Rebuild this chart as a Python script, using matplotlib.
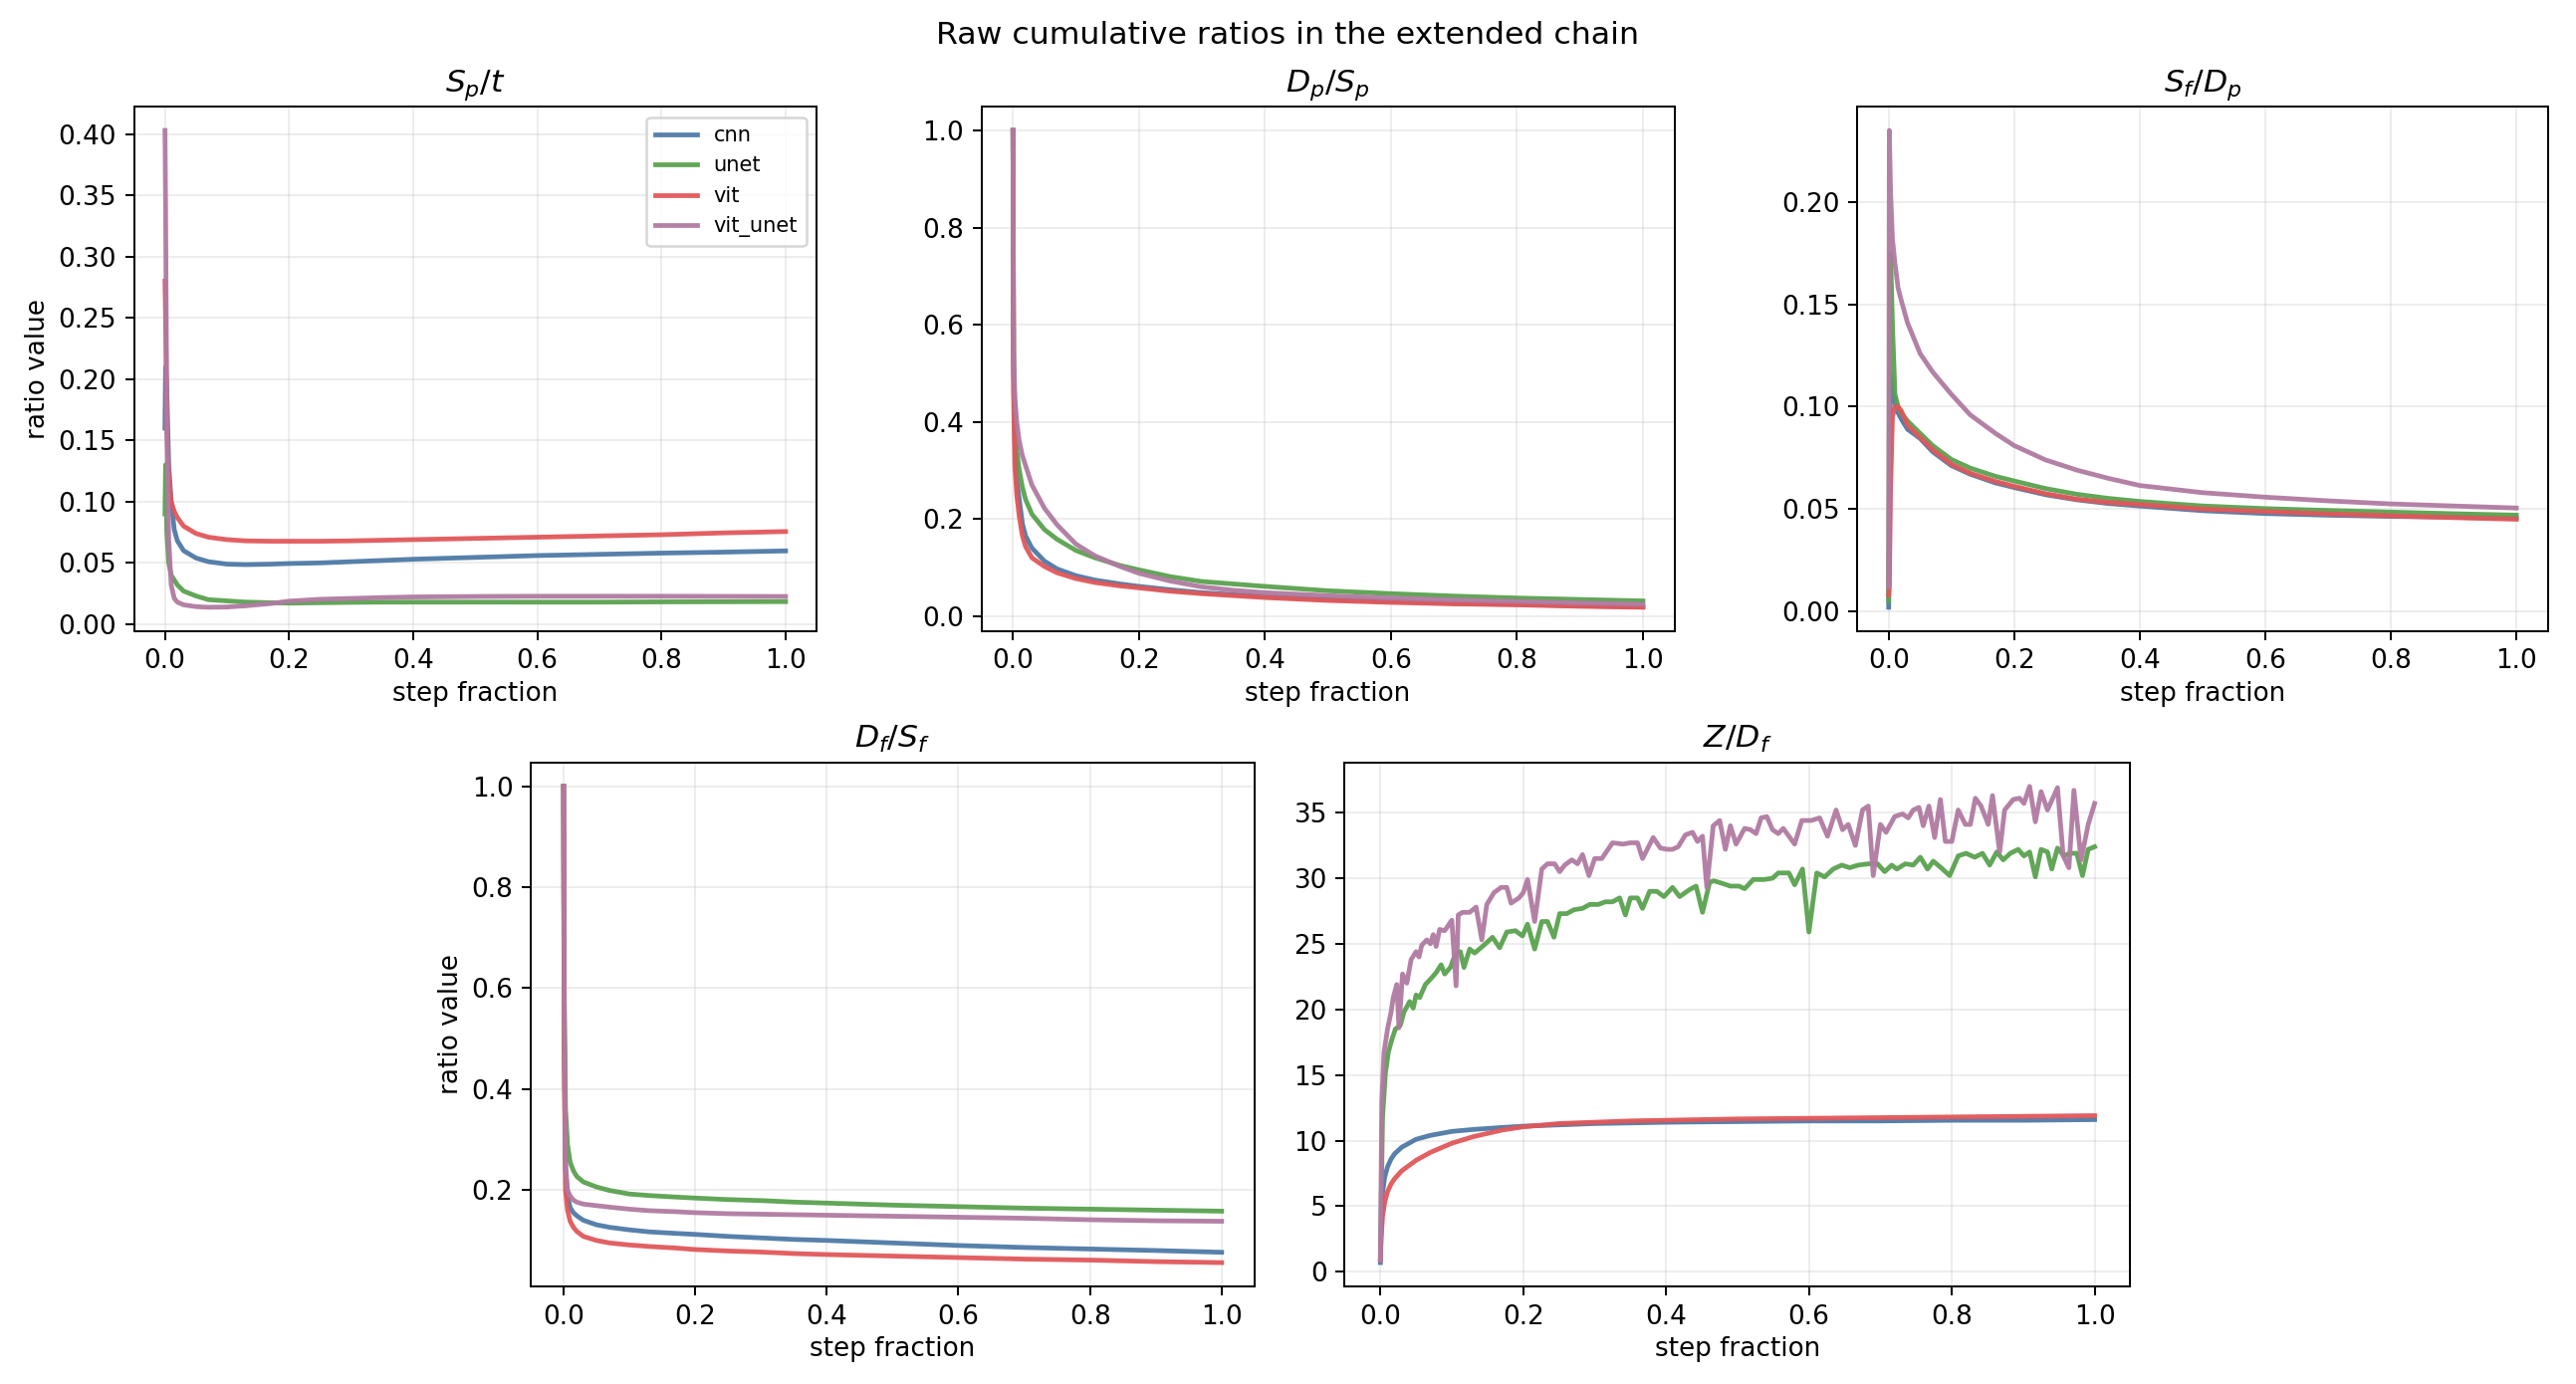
import matplotlib
matplotlib.use("Agg")
import matplotlib.pyplot as plt
import numpy as np

plt.rcParams["font.size"] = 10.5

models = ["cnn", "unet", "vit", "vit_unet"]
colors = {"cnn": "#4e79a7", "unet": "#59a14f", "vit": "#e15759", "vit_unet": "#b07aa1"}

# shared step-fraction grid for the smooth curves
xs = [0, 0.001, 0.003, 0.006, 0.01, 0.015, 0.02, 0.03, 0.05, 0.07, 0.1, 0.13,
      0.17, 0.2, 0.25, 0.3, 0.35, 0.4, 0.5, 0.6, 0.7, 0.8, 0.9, 1.0]

# S_p / t
sp_t = {
    "cnn":      [0.16, 0.21, 0.19, 0.13, 0.10, 0.077, 0.068, 0.060, 0.054, 0.051, 0.049, 0.0486,
                 0.049, 0.0495, 0.050, 0.051, 0.052, 0.053, 0.0545, 0.056, 0.057, 0.058, 0.0588, 0.0598],
    "unet":     [0.09, 0.13, 0.075, 0.05, 0.040, 0.036, 0.032, 0.027, 0.023, 0.020, 0.019, 0.018,
                 0.0175, 0.0172, 0.0175, 0.0178, 0.018, 0.018, 0.018, 0.018, 0.018, 0.0182, 0.0183, 0.0184],
    "vit":      [0.28, 0.25, 0.16, 0.12, 0.10, 0.092, 0.087, 0.080, 0.074, 0.071, 0.069, 0.068,
                 0.0677, 0.0677, 0.0677, 0.068, 0.0685, 0.069, 0.070, 0.071, 0.072, 0.073, 0.0745, 0.0756],
    "vit_unet": [0.403, 0.34, 0.16, 0.07, 0.032, 0.021, 0.018, 0.0158, 0.0143, 0.0138, 0.014, 0.015,
                 0.0168, 0.0188, 0.0203, 0.021, 0.0217, 0.0222, 0.0226, 0.0228, 0.0228, 0.0228, 0.0227, 0.0226],
}

# D_p / S_p
dp_sp = {
    "cnn":      [1.0, 0.50, 0.36, 0.28, 0.24, 0.19, 0.165, 0.14, 0.113, 0.097, 0.083, 0.074,
                 0.066, 0.061, 0.054, 0.048, 0.044, 0.040, 0.034, 0.030, 0.026, 0.024, 0.021, 0.019],
    "unet":     [1.0, 0.52, 0.42, 0.34, 0.30, 0.265, 0.24, 0.21, 0.178, 0.158, 0.135, 0.12,
                 0.104, 0.095, 0.081, 0.071, 0.066, 0.061, 0.052, 0.046, 0.041, 0.037, 0.034, 0.031],
    "vit":      [1.0, 0.46, 0.31, 0.25, 0.205, 0.165, 0.143, 0.12, 0.102, 0.089, 0.077, 0.069,
                 0.062, 0.058, 0.051, 0.046, 0.042, 0.038, 0.032, 0.028, 0.025, 0.023, 0.020, 0.018],
    "vit_unet": [1.0, 0.54, 0.45, 0.40, 0.36, 0.33, 0.31, 0.27, 0.222, 0.188, 0.148, 0.124,
                 0.102, 0.088, 0.072, 0.060, 0.053, 0.048, 0.042, 0.037, 0.033, 0.030, 0.027, 0.024],
}

# S_f / D_p
sf_dp = {
    "cnn":      [0.002, 0.06, 0.115, 0.108, 0.102, 0.097, 0.094, 0.089, 0.0845, 0.078, 0.0712, 0.067,
                 0.0628, 0.0605, 0.0570, 0.0545, 0.0527, 0.0515, 0.0492, 0.0478, 0.047, 0.0464, 0.046, 0.0455],
    "unet":     [0.005, 0.10, 0.175, 0.14, 0.106, 0.100, 0.097, 0.093, 0.087, 0.081, 0.0742, 0.0700,
                 0.0660, 0.0637, 0.0600, 0.0572, 0.0552, 0.0537, 0.0515, 0.0502, 0.0493, 0.0485, 0.0477, 0.047],
    "vit":      [0.008, 0.012, 0.06, 0.095, 0.100, 0.100, 0.098, 0.091, 0.085, 0.079, 0.0718, 0.0675,
                 0.0635, 0.0611, 0.0575, 0.0548, 0.0532, 0.0522, 0.0500, 0.0488, 0.0476, 0.0467, 0.0458, 0.045],
    "vit_unet": [0.012, 0.235, 0.205, 0.182, 0.170, 0.158, 0.152, 0.141, 0.126, 0.117, 0.106, 0.096,
                 0.087, 0.081, 0.074, 0.069, 0.065, 0.0615, 0.058, 0.0558, 0.054, 0.0525, 0.0515, 0.0505],
}

# D_f / S_f
df_sf = {
    "cnn":      [1.0, 0.50, 0.24, 0.19, 0.165, 0.155, 0.149, 0.140, 0.131, 0.126, 0.121, 0.117,
                 0.114, 0.112, 0.108, 0.105, 0.102, 0.100, 0.095, 0.090, 0.086, 0.083, 0.080, 0.0765],
    "unet":     [1.0, 0.60, 0.36, 0.29, 0.255, 0.238, 0.227, 0.216, 0.206, 0.199, 0.192, 0.189,
                 0.186, 0.184, 0.181, 0.179, 0.176, 0.174, 0.170, 0.167, 0.164, 0.162, 0.160, 0.158],
    "vit":      [1.0, 0.45, 0.20, 0.16, 0.138, 0.126, 0.118, 0.108, 0.100, 0.095, 0.091, 0.088,
                 0.085, 0.082, 0.079, 0.077, 0.074, 0.072, 0.069, 0.066, 0.063, 0.061, 0.058, 0.056],
    "vit_unet": [1.0, 0.55, 0.25, 0.20, 0.188, 0.180, 0.176, 0.172, 0.169, 0.166, 0.162, 0.159,
                 0.157, 0.155, 0.153, 0.152, 0.151, 0.150, 0.148, 0.146, 0.144, 0.141, 0.139, 0.138],
}

# Z / D_f : smooth ones on xs, noisy ones on their own x
z_df_cnn = [0.7, 3.0, 6.0, 7.2, 8.0, 8.6, 9.0, 9.5, 10.1, 10.4, 10.7, 10.85,
            11.0, 11.1, 11.2, 11.3, 11.35, 11.4, 11.45, 11.5, 11.5, 11.55, 11.55, 11.6]
z_df_vit = [0.9, 2.5, 4.2, 5.3, 6.1, 6.7, 7.1, 7.7, 8.5, 9.1, 9.8, 10.3,
            10.8, 11.05, 11.3, 11.4, 11.5, 11.55, 11.65, 11.7, 11.75, 11.8, 11.85, 11.9]

x_unet = [0, 0.003, 0.007, 0.011, 0.016, 0.021, 0.028, 0.033, 0.041, 0.046, 0.05, 0.055, 0.063,
          0.07, 0.078, 0.085, 0.09, 0.098, 0.102, 0.107, 0.112, 0.117, 0.125, 0.132, 0.145, 0.157,
          0.167, 0.177, 0.189, 0.199, 0.206, 0.216, 0.226, 0.234, 0.243, 0.251, 0.261, 0.271, 0.283,
          0.293, 0.305, 0.315, 0.325, 0.335, 0.343, 0.35, 0.36, 0.367, 0.377, 0.387, 0.397, 0.409,
          0.419, 0.432, 0.442, 0.451, 0.461, 0.467, 0.479, 0.49, 0.502, 0.51, 0.522, 0.537, 0.549,
          0.557, 0.572, 0.58, 0.591, 0.6, 0.611, 0.622, 0.634, 0.646, 0.657, 0.669, 0.684, 0.696,
          0.706, 0.716, 0.723, 0.735, 0.746, 0.756, 0.766, 0.774, 0.785, 0.797, 0.809, 0.82, 0.832,
          0.843, 0.853, 0.863, 0.872, 0.882, 0.893, 0.901, 0.909, 0.917, 0.925, 0.934, 0.94, 0.948,
          0.957, 0.965, 0.975, 0.983, 0.991, 1.0]
z_df_unet = [1.0, 11.7, 15.1, 16.7, 17.7, 18.5, 18.8, 19.8, 20.6, 20.1, 21.1, 20.9, 21.9,
             22.3, 22.8, 23.4, 22.7, 23.2, 23.8, 24.3, 24.4, 23.2, 24.6, 24.3, 24.9, 25.5,
             24.7, 25.9, 26.0, 25.6, 26.5, 24.6, 26.7, 26.7, 25.5, 27.3, 27.3, 27.6, 27.7,
             28.0, 28.0, 28.2, 28.2, 28.5, 27.2, 28.5, 28.5, 27.7, 29.0, 29.0, 28.6, 29.3,
             28.6, 29.1, 29.4, 27.4, 29.7, 29.8, 29.6, 29.4, 29.4, 29.2, 29.9, 29.9, 30.0,
             30.4, 30.4, 29.5, 30.7, 25.9, 30.4, 30.1, 30.7, 31.0, 30.8, 31.0, 31.1, 31.1,
             30.5, 31.0, 30.7, 31.1, 31.0, 31.6, 30.7, 31.3, 30.8, 30.2, 31.7, 31.9, 31.6,
             31.9, 31.0, 32.0, 31.4, 31.9, 32.2, 31.7, 32.0, 30.1, 32.2, 32.0, 30.7, 32.3,
             31.7, 31.9, 31.9, 30.2, 32.2, 32.4]

x_vit_unet = [0, 0.002, 0.005, 0.01, 0.015, 0.018, 0.023, 0.026, 0.031, 0.037, 0.043, 0.05, 0.054,
              0.058, 0.065, 0.07, 0.074, 0.078, 0.083, 0.09, 0.095, 0.1, 0.106, 0.109, 0.115, 0.125,
              0.134, 0.142, 0.149, 0.159, 0.169, 0.177, 0.183, 0.194, 0.2, 0.206, 0.216, 0.226, 0.234,
              0.244, 0.251, 0.258, 0.268, 0.276, 0.283, 0.292, 0.3, 0.31, 0.325, 0.34, 0.35, 0.36,
              0.367, 0.382, 0.392, 0.402, 0.409, 0.417, 0.427, 0.437, 0.444, 0.451, 0.457, 0.466,
              0.475, 0.483, 0.49, 0.498, 0.51, 0.518, 0.526, 0.533, 0.541, 0.549, 0.557, 0.564, 0.58,
              0.59, 0.603, 0.615, 0.626, 0.638, 0.647, 0.655, 0.665, 0.675, 0.683, 0.69, 0.7, 0.708,
              0.72, 0.731, 0.739, 0.746, 0.754, 0.76, 0.768, 0.776, 0.784, 0.791, 0.8, 0.809, 0.819,
              0.826, 0.833, 0.841, 0.851, 0.857, 0.867, 0.874, 0.886, 0.895, 0.901, 0.909, 0.917,
              0.925, 0.934, 0.948, 0.956, 0.964, 0.971, 0.981, 0.991, 1.0]
z_df_vit_unet = [0.9, 13.0, 16.7, 18.5, 19.8, 20.9, 21.9, 18.6, 22.7, 22.0, 23.8, 24.4, 24.0,
                 24.9, 25.3, 25.0, 25.7, 24.8, 26.1, 26.0, 26.4, 26.8, 21.8, 27.2, 27.4, 27.4,
                 27.8, 25.3, 28.0, 28.9, 29.3, 29.3, 28.1, 28.5, 28.9, 29.9, 26.7, 30.7, 31.1,
                 31.1, 30.5, 31.0, 31.4, 31.1, 31.8, 30.2, 31.5, 31.5, 32.7, 32.6, 32.7, 32.7,
                 31.5, 33.1, 32.3, 32.2, 32.2, 32.4, 33.3, 33.5, 32.8, 33.2, 29.3, 34.0,
                 34.4, 32.2, 34.0, 32.6, 33.8, 33.7, 33.4, 34.6, 34.7, 33.7, 33.4, 33.8, 32.6,
                 34.4, 34.4, 34.6, 33.2, 35.2, 33.7, 34.1, 32.5, 35.2, 35.5, 30.2, 34.1, 33.5,
                 34.7, 34.9, 34.6, 35.2, 35.4, 34.0, 35.5, 33.1, 36.0, 32.8, 32.8, 35.2, 34.1,
                 34.1, 36.1, 35.5, 34.1, 36.3, 32.0, 35.2, 36.0, 36.1, 35.7, 37.0, 34.3,
                 36.6, 35.2, 36.9, 31.7, 30.8, 36.7, 31.4, 34.1, 35.7]

z_df = {
    "cnn": (xs, z_df_cnn),
    "unet": (x_unet, z_df_unet),
    "vit": (xs, z_df_vit),
    "vit_unet": (x_vit_unet, z_df_vit_unet),
}

fig = plt.figure(figsize=(2587 / 180, 1390 / 180), dpi=180)
fig.suptitle("Raw cumulative ratios in the extended chain", fontsize=12.6, y=0.985)

positions = [
    [0.052, 0.544, 0.265, 0.379],
    [0.381, 0.544, 0.269, 0.379],
    [0.721, 0.544, 0.268, 0.379],
    [0.206, 0.0705, 0.281, 0.3785],
    [0.522, 0.0705, 0.305, 0.3785],
]
titles = [r"$S_p/t$", r"$D_p/S_p$", r"$S_f/D_p$", r"$D_f/S_f$", r"$Z/D_f$"]
panels = [sp_t, dp_sp, sf_dp, df_sf, None]

for i, pos in enumerate(positions):
    ax = fig.add_axes(pos)
    for m in models:
        if panels[i] is None:
            x, y = z_df[m]
        else:
            x, y = xs, panels[i][m]
        ax.plot(x, y, color=colors[m], lw=1.9, alpha=0.95, label=m)
    ax.set_title(titles[i], fontsize=12.6)
    ax.set_xlabel("step fraction", labelpad=2.5)
    ax.set_xticks([0.0, 0.2, 0.4, 0.6, 0.8, 1.0])
    ax.grid(True, alpha=0.22)
    if i in (0, 3):
        ax.set_ylabel("ratio value", labelpad=3)
    if i == 0:
        ax.legend(loc="upper right", fontsize=8.4)

fig.savefig("out.png", dpi=180)
